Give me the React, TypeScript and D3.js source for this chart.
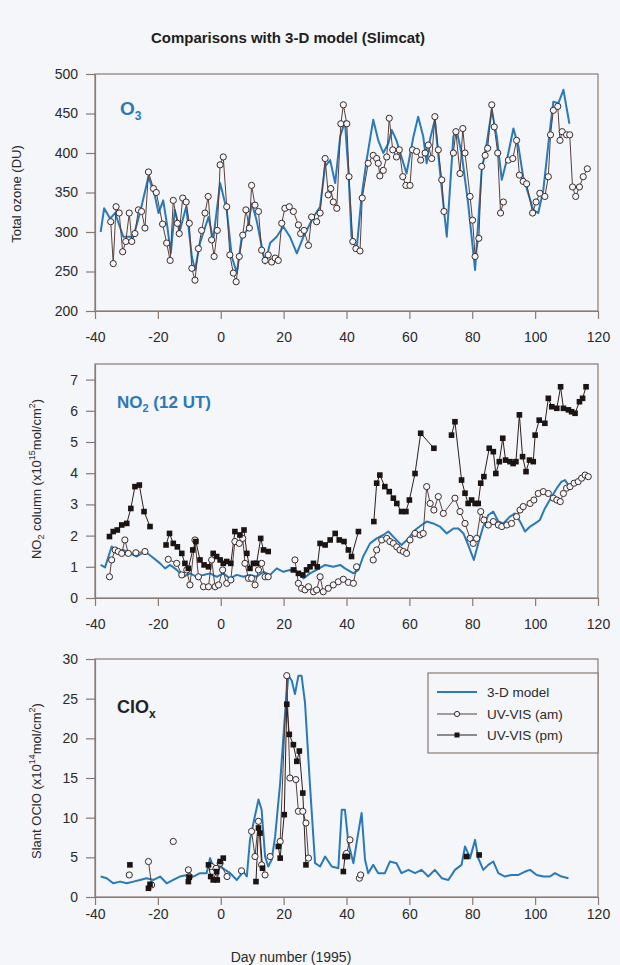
import React, { useEffect, useRef } from 'react';
import * as d3 from 'd3';

type Pt = [number, number] | null;

// ---- O3 panel (DU) ----
const o3Model: Pt[] = [
  [-38.2, 300], [-37.1, 330], [-35.2, 317], [-33.6, 324], [-31, 294], [-27.8, 294], [-25.7, 324], [-23, 370],
  [-20.9, 345], [-19.8, 324], [-18.3, 340], [-17, 307], [-15.9, 273], [-14.6, 328], [-13, 302], [-11, 332],
  [-9.2, 269], [-8.2, 252], [-6.6, 286], [-3.9, 319], [-2.4, 290], [-0.2, 362], [1.9, 328], [3.5, 269],
  [5.1, 248], [6.7, 294], [8.3, 302], [9.9, 336], [11.4, 315], [14.1, 260], [15.7, 286], [17.8, 294],
  [19.9, 307], [22, 294], [24.2, 273], [26.3, 294], [29.5, 319], [31.6, 332], [33.2, 383], [34.8, 391],
  [36.4, 362], [38, 421], [39.5, 440], [40.6, 378], [41.6, 294], [43.2, 277], [44.8, 345], [46.4, 391],
  [48.5, 442], [50.1, 416], [51.7, 400], [53.3, 412], [54.4, 429], [55.9, 416], [57.5, 395], [59.1, 374],
  [61.3, 421], [62.8, 446], [64.4, 421], [65.5, 387], [66.5, 416], [68.1, 442], [69.7, 378], [71.9, 294],
  [74, 421], [75, 429], [76.6, 400], [78.7, 336], [80.9, 252], [83, 378], [84.6, 412], [86.2, 454],
  [87.8, 421], [89.4, 366], [91, 391], [93.1, 431], [94.7, 408], [96.2, 370], [99.4, 328], [101, 324],
  [102.6, 353], [104.7, 429], [105.8, 465], [107.4, 463], [109, 480], [110.9, 437],
];

const o3Am: Pt[] = [
  [-35, 313], [-34.2, 260], [-33.3, 332], [-32.3, 324], [-31.2, 275], [-30.2, 288], [-29.1, 324], [-28.3, 288],
  [-27.3, 298], [-26.2, 328], [-25.2, 326], [-24.1, 305], [-23, 376], [-21.4, 355], [-20.5, 350], [-18.5, 310],
  [-17.2, 286], [-16.1, 264], [-15.1, 340], [-13.8, 311], [-13.2, 298], [-12.1, 343], [-11, 338], [-10, 311],
  [-9.2, 254], [-8.2, 239], [-7.1, 279], [-6.1, 302], [-5, 324], [-4, 345], [-2.9, 290], [-2.1, 269],
  [-1.1, 302], [-0.2, 385], [0.8, 395], [1.9, 332], [2.9, 271], [4, 248], [4.9, 237], [5.9, 269],
  [7, 296], [8, 328], [9.1, 305], [9.8, 359], [10.9, 334], [12, 326], [13, 277], [14.1, 264],
  [15.1, 271], [16.2, 262], [17.3, 267], [18.3, 264], [19.4, 311], [20.4, 330], [21.8, 332], [23.1, 326],
  [24.7, 309], [25.4, 298], [26.5, 302], [27.9, 283], [28.9, 319], [30.5, 313], [31.6, 324], [33.2, 393],
  [34.2, 347], [35, 355], [35.8, 338], [36.9, 330], [38.2, 437], [39, 461], [40.1, 437], [40.8, 370],
  [42, 288], [43, 279], [44.3, 276], [45, 343], [46.9, 387], [48.5, 397], [49.6, 393], [50.1, 387],
  [50.6, 371], [51.7, 378], [52.8, 395], [53.6, 444], [54.7, 404], [55.9, 395], [56.8, 404], [57.9, 370],
  [58.9, 359], [60.2, 359], [61, 404], [62.3, 402], [63.6, 391], [65, 400], [66, 410], [67.1, 393],
  [68.1, 446], [69.2, 404], [70.3, 366], [71, 326], null,
  [74, 400], [74.8, 427], [76.1, 374], [77, 431], [77.7, 400], [79.3, 345], [80.1, 315], [80.9, 269],
  [82.1, 292], [83, 383], [84.1, 397], [84.9, 406], [86.2, 461], [87, 433], [88.1, 400], [89, 324],
  [89.9, 338], null,
  [91.5, 391], [92.9, 393], [94.1, 416], [95, 372], [96.2, 364], [97.3, 361], [99.2, 324], [100.3, 338],
  [101.5, 349], [103.1, 345], [104.2, 370], [104.9, 423], [105.8, 454], [107.2, 459], [107.9, 416], [108.6, 427],
  [110, 423], [111, 423], [111.9, 357], [112.9, 345], [114.1, 357], [115.3, 370], [116.6, 380],
];

// ---- NO2 panel (x10^15 mol/cm2) ----
const no2Model: Pt[] = [
  [-38.2, 1.06], [-36.8, 0.98], [-34.7, 1.65], [-33.1, 1.49], [-31, 1.54], [-28.9, 1.43], [-26.7, 1.33],
  [-24.1, 1.49], [-22, 1.33], [-19.3, 1.11], [-17.7, 0.95], [-16.1, 1.06], [-14, 0.9], [-11.9, 0.68],
  [-9.8, 0.79], [-7.6, 0.68], [-5.5, 0.74], [-3.4, 0.79], [-1.3, 0.68], [0.8, 0.79], [2.9, 0.63],
  [5.1, 0.74], [7.2, 0.68], [9.3, 0.74], [11.4, 0.68], [13.6, 0.84], [15.7, 0.74], [17.8, 0.95],
  [19.9, 0.84], [22, 0.9], [24.2, 0.84], [26.3, 0.63], [28.4, 0.79], [30.5, 0.9], [33.2, 1.06],
  [35.8, 1.0], [38, 1.06], [39.5, 0.95], [42.2, 0.79], [43.8, 0.9], [45.3, 1.33], [47.5, 1.75],
  [49.6, 1.91], [51.7, 2.02], [53.3, 2.13], [55.4, 1.91], [57.5, 1.7], [59.7, 1.91], [61.8, 2.18],
  [63.9, 2.34], [65.5, 2.45], [67.6, 2.39], [69.7, 2.29], [71.9, 2.07], [74, 2.23], [75.6, 2.23],
  [77.2, 2.07], [78.7, 1.7], [80.5, 1.22], [81.9, 1.75], [83.5, 2.29], [85.1, 2.66], [86.7, 2.77],
  [88.3, 2.45], [89.9, 2.39], [92, 2.61], [93.6, 2.71], [95.2, 2.45], [96.8, 2.13], [98.4, 2.29],
  [100, 2.39], [101.5, 2.5], [103.1, 2.87], [105.3, 3.25], [106.9, 3.52], [108.4, 3.73], [109.5, 3.78],
  [110.6, 3.62],
];

const no2Am: Pt[] = [
  [-35.4, 0.68], [-34.7, 1.22], [-33.6, 1.54], [-32.6, 1.49], [-31.5, 1.43], [-30.5, 1.86], [-29.4, 1.43],
  [-27, 1.45], [-24.1, 1.49], null,
  [-16.7, 1.24], [-14, 1.11], [-12.4, 0.74], [-10.8, 0.9], [-9.8, 0.42], [-8.2, 1.86], [-7.1, 0.68],
  [-5.5, 0.36], [-3.9, 0.36], [-2.9, 1.22], [-1.8, 0.36], [-0.7, 0.42], [0.6, 0.9], [1.9, 0.47],
  [3.2, 0.58], [4.5, 1.81], [5.9, 1.75], [7, 1.91], [7.7, 1.11], [8.8, 0.63], [9.8, 0.63], [10.9, 0.42],
  [12, 0.9], [13, 1.11], [14.1, 0.68], [15.1, 0.68], null,
  [23.6, 1.22], [24.7, 0.47], [25.7, 0.31], [26.8, 0.26], [27.9, 0.36], [29.5, 0.2], [30.5, 0.26],
  [31.6, 0.68], [32.6, 0.2], [34.2, 0.31], [35.8, 0.42], [37.4, 0.52], [39, 0.6], [40.6, 0.5],
  [42.2, 0.47], [43.2, 1.0], null,
  [48.5, 1.22], [49.6, 1.54], [51.2, 1.86], [52.8, 1.91], [53.8, 1.81], [54.9, 1.75], [56, 1.64],
  [57, 1.54], [58.1, 1.49], [59.1, 1.43], [60.2, 1.86], [61.8, 2.07], [63.4, 2.02], [64.4, 2.07],
  [65.5, 3.57], [66.6, 3.03], [67.8, 2.82], [69.2, 3.25], [70.8, 2.71], [74.5, 3.2], [76.1, 2.77],
  [77.7, 2.39], [79.3, 1.91], [80.3, 1.75], [81.4, 1.91], [82.7, 2.77], [83.7, 2.5], [85.1, 2.34],
  [86.7, 2.45], [88.3, 2.34], [89.4, 2.29], [91, 2.34], [92.5, 2.39], [94.1, 2.61], [95.2, 2.82],
  [96.2, 2.93], [98.4, 3.03], [99.6, 3.14], [101, 3.35], [102.6, 3.41], [104.2, 3.35], [105.8, 3.2],
  [106.9, 3.14], [108, 3.09], [109, 3.35], [110, 3.52], [111.1, 3.57], [112.4, 3.68], [113.7, 3.73],
  [114.8, 3.84], [115.9, 3.94], [116.9, 3.89],
];

const no2Pm: Pt[] = [
  [-35.4, 1.97], [-34.2, 2.13], [-32.9, 2.18], [-31.5, 2.34], [-29.9, 2.39], [-28.6, 2.87], [-27.3, 3.57],
  [-25.9, 3.62], [-24.4, 2.77], [-22.5, 2.29], null,
  [-17.4, 1.7], [-16.3, 2.07], [-15.1, 1.75], [-13.8, 1.64], [-12.4, 1.43], [-11.4, 1.11], [-10.3, 0.95],
  [-8.9, 1.54], [-7.9, 1.81], [-6.6, 1.22], [-5.3, 1.06], [-3.9, 1.0], [-2.4, 1.43], [-1.3, 1.33],
  [-0.2, 1.22], [0.8, 1.11], [1.9, 1.17], [3.2, 1.11], [4.5, 2.13], [6.1, 2.02], [7.4, 2.18], [8.3, 1.43],
  [9.3, 0.95], [10.4, 1.11], [11.4, 1.11], [12.7, 1.91], [13.6, 1.54], [15.1, 1.49], null,
  [23.1, 0.9], [24.7, 0.79], [26.1, 0.74], [27.3, 0.9], [28.4, 1.0], [29.5, 1.11], [30.7, 1.0],
  [31.6, 1.75], [33.2, 1.7], [34.8, 1.86], [36.4, 2.07], [37.7, 1.86], [39.2, 1.81], [40.6, 1.54],
  [41.6, 1.33], [43.8, 2.13], null,
  [48.7, 2.45], [49.6, 3.68], [50.6, 3.94], [52.2, 3.57], [53.6, 3.41], [54.9, 3.2], [56, 3.03],
  [57.5, 2.77], [58.9, 2.77], [60, 3.14], [61.8, 3.99], [63.6, 5.28], [67.8, 4.8], null,
  [73.4, 5.22], [74.5, 5.65], [76.6, 3.78], [77.7, 3.36], [78.7, 3.03], [79.8, 3.14], [80.9, 3.03],
  [81.9, 3.03], [82.7, 3.68], [83.7, 3.89], [85.4, 4.8], [86.7, 4.69], [87.5, 3.99], [88.6, 4.37],
  [89.7, 5.12], [90.6, 4.42], [92, 4.37], [93, 4.31], [93.9, 4.37], [95, 5.87], [96, 4.53], [97.1, 4.05],
  [98.2, 4.42], [99.4, 4.37], [100, 5.22], [101.3, 5.7], [103.1, 5.6], [104.2, 6.4], [105.3, 6.13],
  [106.9, 6.08], [108.1, 6.77], [109, 6.08], [110.6, 6.03], [111.6, 5.97], [112.7, 5.92], [114.1, 6.29],
  [115.1, 6.4], [116.2, 6.77],
];

// ---- ClOx panel (slant OClO, x10^14 mol/cm2) ----
const cloModel: Pt[] = [
  [-38.2, 2.58], [-36.3, 2.37], [-34.2, 1.73], [-32, 1.94], [-29.9, 1.73], [-27.8, 1.94], [-25.7, 2.15],
  [-23.6, 2.37], [-21.4, 2.15], [-19.3, 2.58], [-17.2, 1.73], [-15.1, 2.15], [-13, 2.58], [-10.8, 2.78],
  [-8.7, 2.58], [-6.6, 3], [-4.5, 3], [-3.4, 4.9], [-2.4, 3.84], [-1.3, 3], [-0.2, 3.84], [1.4, 3.42],
  [3, 3], [5.1, 2.15], [7.2, 3.21], [8.3, 2.58], [9.3, 7.2], [10.4, 9.33], [12, 12.28], [13, 11],
  [14.1, 5.1], [15.1, 3.84], [16.2, 4.69], [17.3, 7.64], [18.9, 14.39], [20.4, 22.83], [21.5, 27.9],
  [22.6, 27.26], [23.6, 25.57], [24.7, 27.9], [25.7, 27.9], [26.8, 24.5], [28.4, 13.97], [30, 4.26],
  [31.6, 3.84], [33.2, 5.1], [35.3, 3.84], [37.4, 3.63], [38.5, 11], [39.5, 11], [40.6, 6.8],
  [42.2, 4.26], [43.2, 6.8], [44.8, 10.6], [45.9, 4.69], [46.9, 3], [48.5, 4.05], [50.1, 3], [52.2, 3],
  [53.8, 4.47], [55.9, 4.26], [57.5, 3], [59.7, 3.42], [61.8, 3], [63.9, 3.42], [66, 2.58], [68.1, 3.42],
  [70.3, 2.37], [72.4, 2.15], [74.5, 3.42], [76.6, 4.05], [77.7, 6.37], [79.3, 4.9], [80.9, 7.2],
  [81.9, 4.9], [83.5, 3.42], [85.1, 4.05], [86.7, 4.47], [88.3, 3], [90.4, 2.58], [92.5, 2.78],
  [94.7, 2.78], [96.8, 3.21], [98.4, 3.42], [100.5, 2.78], [102.6, 2.58], [104.7, 2.58], [106.3, 3],
  [108.4, 2.58], [110.6, 2.37],
];

const cloAm: Pt[] = [
  [-29.1, 2.78], null, [-23, 4.47], [-22, 1.52], null, [-15.1, 7.0], null, [-10.3, 3.42], [-10, 2.58], null,
  [-2.9, 3.84], [-1.5, 3.6], [-0.2, 4.26], [2, 2.58], null, [6.6, 3.3], null,
  [9.8, 8.27], [10.9, 5.1], [12, 9.54], [13, 4.05], [14.1, 2.78], null, [15.7, 5.1], null,
  [18.9, 7.0], [21, 27.9], [22, 15], [23.9, 14.8], [24.7, 10.8], [26.1, 10.8], [27.1, 9.33], [27.9, 4.9], null,
  [40, 5.5], [41.1, 7.2], null, [44.1, 2.37], [44.5, 2.78],
];

const cloPm: Pt[] = [
  [-28.9, 4.05], null, [-23, 1.1], [-22.5, 1.6], null, [-10.3, 1.94], [-10, 2.5], null,
  [-3.9, 4.05], [-3.2, 2.58], [-2.4, 2.15], [-1.3, 3.21], [-1.1, 2.15], [-0.2, 4.47], [0.8, 4.9], null,
  [11.2, 1.94], [12, 8.7], [12.5, 8.06], [13.3, 3.63], null,
  [18.3, 6.37], [18.9, 4.9], [20.2, 10.38], [21, 24.3], [21.8, 20.5], [23.1, 19.2], [24.2, 17.1],
  [25, 18.4], [26.1, 13.1], [27.1, 4.05], null,
  [39, 3.21], [39.5, 5.1], [40.3, 5.1], null, [78.2, 5.1], null, [82.2, 5.3],
];

const xTicks = [-40, -20, 0, 20, 40, 60, 80, 100, 120];
const o3Ticks = [200, 250, 300, 350, 400, 450, 500];
const no2Ticks = [0, 1, 2, 3, 4, 5, 6, 7];
const cloTicks = [0, 5, 10, 15, 20, 25, 30];
const legendLabels = ['3-D model', 'UV-VIS (am)', 'UV-VIS (pm)'];

const FONT = 'Liberation Sans, Arial, Helvetica, sans-serif';
const BG = '#f4f6fa';
const AXIS = '#8a7a72';
const BLUE = '#2a79b8';
const AM_LINE = '#5a403a';
const PM_LINE = '#2b1e1b';
const MARK_EDGE = '#3b2b27';

const W = 620;
const H = 965;
const x = d3.scaleLinear().domain([-40, 120]).range([95, 598]);

interface PanelProps {
  domain: [number, number];
  range: [number, number];
  yTicks: number[];
  xPad: number;
  model: Pt[];
  am: Pt[];
  pm?: Pt[];
}

const Panel: React.FC<PanelProps> = ({ domain, range, yTicks, xPad, model, am, pm }) => {
  const xAxisRef = useRef<SVGGElement>(null);
  const yAxisRef = useRef<SVGGElement>(null);
  const y = d3.scaleLinear().domain(domain).range(range);

  useEffect(() => {
    const style = (g: d3.Selection<SVGGElement, unknown, null, undefined>) => {
      g.select('.domain').attr('stroke', AXIS).attr('stroke-width', 1.2);
      g.selectAll('.tick line').attr('stroke', AXIS).attr('stroke-width', 1.2);
      g.selectAll('.tick text')
        .attr('fill', '#2a2a2a')
        .attr('font-size', 14)
        .attr('font-family', FONT);
    };
    const fmt = (d: d3.NumberValue) => String(d);
    if (xAxisRef.current) {
      const g = d3.select(xAxisRef.current);
      g.call(
        d3.axisBottom(x).tickValues(xTicks).tickFormat(fmt).tickSize(8).tickPadding(xPad - 8).tickSizeOuter(0),
      );
      style(g);
    }
    if (yAxisRef.current) {
      const g = d3.select(yAxisRef.current);
      g.call(d3.axisLeft(y).tickValues(yTicks).tickFormat(fmt).tickSize(9).tickPadding(8).tickSizeOuter(0));
      style(g);
    }
  });

  const line = d3
    .line<Pt>()
    .defined((d) => d !== null)
    .x((d) => x((d as [number, number])[0]))
    .y((d) => y((d as [number, number])[1]));

  const pts = (arr: Pt[]) => arr.filter((d): d is [number, number] => d !== null);

  return (
    <g>
      <rect
        x={x(-40)}
        y={range[1]}
        width={x(120) - x(-40)}
        height={range[0] - range[1]}
        fill="none"
        stroke={AXIS}
        strokeWidth={1.2}
      />
      <path d={line(model) || ''} fill="none" stroke={BLUE} strokeWidth={2} strokeLinejoin="round" />
      <path d={line(am) || ''} fill="none" stroke={AM_LINE} strokeWidth={1} />
      {pm && <path d={line(pm) || ''} fill="none" stroke={PM_LINE} strokeWidth={1} />}
      {pts(am).map((d, i) => (
        <circle key={'a' + i} cx={x(d[0])} cy={y(d[1])} r={3.1} fill={BG} stroke={MARK_EDGE} strokeWidth={1} />
      ))}
      {pm &&
        pts(pm).map((d, i) => (
          <rect key={'p' + i} x={x(d[0]) - 2.8} y={y(d[1]) - 2.8} width={5.6} height={5.6} fill="#1c1412" />
        ))}
      <g ref={xAxisRef} transform={`translate(0,${range[0]})`} />
      <g ref={yAxisRef} transform={`translate(${x(-40)},0)`} />
    </g>
  );
};

const App: React.FC = () => {
  const legendY = [692, 714, 735];
  return (
    <svg
      width={W}
      height={H}
      style={{ position: 'absolute', left: 0, top: 0, background: BG }}
      fontFamily={FONT}
    >
      <rect x={0} y={0} width={W} height={H} fill={BG} />
      <text x={288} y={43} textAnchor="middle" fontSize={15} fontWeight="bold" fill="#1e1e1e">
        Comparisons with 3-D model (Slimcat)
      </text>

      <Panel domain={[200, 500]} range={[311, 74]} yTicks={o3Ticks} xPad={21} model={o3Model} am={o3Am} />
      <Panel domain={[0, 7.5]} range={[598, 364]} yTicks={no2Ticks} xPad={21} model={no2Model} am={no2Am} pm={no2Pm} />
      <Panel domain={[0, 30]} range={[897, 659]} yTicks={cloTicks} xPad={12} model={cloModel} am={cloAm} pm={cloPm} />

      {/* panel labels */}
      <text x={120} y={115} fontSize={19} fontWeight="bold" fill={BLUE}>
        O<tspan fontSize={12} dy={5}>3</tspan>
      </text>
      <text x={117} y={408} fontSize={17} fontWeight="bold" fill={BLUE}>
        NO<tspan fontSize={11} dy={4}>2</tspan>
        <tspan dy={-4}> (12 UT)</tspan>
      </text>
      <text x={117} y={713} fontSize={18} fontWeight="bold" fill="#222">
        ClO<tspan fontSize={12} dy={5}>x</tspan>
      </text>

      {/* y axis titles */}
      <text transform="translate(21,194) rotate(-90)" textAnchor="middle" fontSize={13} fill="#2a2a2a">
        Total ozone (DU)
      </text>
      <text transform="translate(41,479) rotate(-90)" textAnchor="middle" fontSize={13} fill="#2a2a2a">
        NO<tspan fontSize={9} dy={3}>2</tspan>
        <tspan dy={-3}> column (x10</tspan>
        <tspan fontSize={9} dy={-6}>15</tspan>
        <tspan dy={6}>mol/cm</tspan>
        <tspan fontSize={9} dy={-6}>2</tspan>
        <tspan dy={6}>)</tspan>
      </text>
      <text transform="translate(41,781) rotate(-90)" textAnchor="middle" fontSize={13} fill="#2a2a2a">
        Slant OClO (x10<tspan fontSize={9} dy={-6}>14</tspan>
        <tspan dy={6}>mol/cm</tspan>
        <tspan fontSize={9} dy={-6}>2</tspan>
        <tspan dy={6}>)</tspan>
      </text>

      <text x={291} y={962} textAnchor="middle" fontSize={14} fill="#2a2a2a">
        Day number (1995)
      </text>

      {/* legend */}
      <rect x={428} y={673} width={170} height={80} fill={BG} stroke={AXIS} strokeWidth={1.2} />
      <line x1={437} x2={477} y1={legendY[0]} y2={legendY[0]} stroke={BLUE} strokeWidth={2} />
      <line x1={437} x2={477} y1={legendY[1]} y2={legendY[1]} stroke={AM_LINE} strokeWidth={1} />
      <circle cx={457} cy={legendY[1]} r={2.6} fill={BG} stroke={MARK_EDGE} strokeWidth={1} />
      <line x1={437} x2={477} y1={legendY[2]} y2={legendY[2]} stroke={PM_LINE} strokeWidth={1} />
      <rect x={454.5} y={legendY[2] - 2.5} width={5} height={5} fill="#1c1412" />
      {legendLabels.map((t, i) => (
        <text key={t} x={487} y={legendY[i] + 5} fontSize={13.5} fill="#2a2a2a">
          {t}
        </text>
      ))}
    </svg>
  );
};

export default App;
